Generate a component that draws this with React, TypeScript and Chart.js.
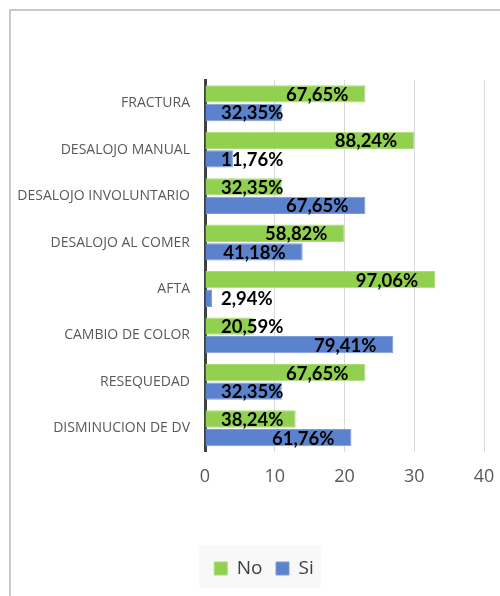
import React, { useEffect, useRef } from "react";
import { Chart, registerables } from "chart.js";

Chart.register(...registerables);

const categories = [
  "FRACTURA",
  "DESALOJO MANUAL",
  "DESALOJO INVOLUNTARIO",
  "DESALOJO AL COMER",
  "AFTA",
  "CAMBIO DE COLOR",
  "RESEQUEDAD",
  "DISMINUCION DE DV",
];
const noValues = [23, 30, 11, 20, 33, 7, 23, 13];
const siValues = [11, 4, 23, 14, 1, 27, 11, 21];
const xTicks = [0, 10, 20, 30, 40];

const pct = (v: number, i: number) =>
  ((v / (noValues[i] + siValues[i])) * 100).toFixed(2).replace(".", ",") + "%";

const frame = {
  id: "frame",
  afterLayout(chart: any) {
    const lg = chart.legend;
    if (lg) {
      lg.left += 22;
      lg.right += 22;
    }
  },
  beforeDraw(chart: any) {
    const ctx = chart.ctx;
    ctx.save();
    ctx.fillStyle = "#ffffff";
    ctx.fillRect(0, 0, chart.width, chart.height);
    ctx.strokeStyle = "#c9c9c9";
    ctx.lineWidth = 2;
    ctx.strokeRect(10, 10, chart.width + 40, chart.height + 40);
    const lg = chart.legend;
    if (lg && lg.legendHitBoxes && lg.legendHitBoxes.length) {
      const hb = lg.legendHitBoxes;
      const last = hb[hb.length - 1];
      const x1 = hb[0].left - 15;
      const x2 = last.left + last.width + 7;
      ctx.fillStyle = "#f8f8f8";
      ctx.fillRect(x1, lg.top, x2 - x1, lg.height);
    }
    ctx.restore();
  },
};

const valueLabels = {
  id: "valueLabels",
  afterDatasetsDraw(chart: any) {
    const ctx = chart.ctx;
    const area = chart.chartArea;
    ctx.save();
    ctx.font = "bold 18.5px Lato";
    ctx.fillStyle = "#000000";
    ctx.textAlign = "left";
    ctx.textBaseline = "middle";
    chart.data.datasets.forEach((ds: any, di: number) => {
      const meta = chart.getDatasetMeta(di);
      meta.data.forEach((bar: any, i: number) => {
        const text = pct(ds.data[i], i);
        const w = ctx.measureText(text).width;
        const x = Math.max(bar.x - 17 - w, area.left + 16);
        ctx.fillText(text, x, bar.y + 1);
      });
    });
    ctx.restore();
  },
};

export default function App() {
  const ref = useRef<HTMLCanvasElement | null>(null);
  useEffect(() => {
    if (!ref.current) return;
    const chart = new Chart(ref.current, {
      type: "bar",
      data: {
        labels: categories,
        datasets: [
          {
            label: "No",
            data: noValues,
            backgroundColor: "#92d050",
            borderColor: "#a9dc76",
            borderWidth: 1,
            categoryPercentage: 0.8,
            barPercentage: 0.93,
          },
          {
            label: "Si",
            data: siValues,
            backgroundColor: "#5b82cd",
            borderColor: "#7d9bd8",
            borderWidth: 1,
            categoryPercentage: 0.8,
            barPercentage: 0.93,
          },
        ],
      },
      options: {
        indexAxis: "y",
        responsive: false,
        animation: false,
        devicePixelRatio: 1,
        layout: { padding: { top: 80, right: 16, bottom: 8, left: 0 } },
        plugins: {
          tooltip: { enabled: false },
          legend: {
            position: "bottom",
            labels: {
              boxWidth: 13,
              boxHeight: 13,
              padding: 13.5,
              color: "#404040",
              font: { family: "Open Sans", size: 19 },
            },
          },
        },
        scales: {
          x: {
            min: 0,
            max: 40,
            afterBuildTicks: (s: any) => {
              s.ticks = xTicks.map((v) => ({ value: v }));
            },
            afterFit: (s: any) => {
              s.height = 94;
              s.paddingRight = 10;
              s.paddingLeft = 0;
            },
            grid: { color: "#d9d9d9", lineWidth: 1, drawTicks: false },
            border: { display: false },
            ticks: {
              color: "#595959",
              padding: 15,
              font: { family: "Open Sans", size: 18 },
            },
          },
          y: {
            afterFit: (s: any) => {
              s.width = 205;
            },
            grid: { display: true, drawOnChartArea: false, drawTicks: false },
            border: { display: true, color: "#404040", width: 3 },
            ticks: {
              color: "#595959",
              padding: 15,
              font: { family: "Open Sans", size: 14 },
            },
          },
        },
      },
      plugins: [frame, valueLabels],
    } as any);
    return () => chart.destroy();
  }, []);
  return (
    <div
      style={{
        position: "absolute",
        left: 0,
        top: 0,
        width: 500,
        height: 596,
        overflow: "hidden",
      }}
    >
      <canvas ref={ref} width={500} height={596} style={{ display: "block" }} />
    </div>
  );
}
